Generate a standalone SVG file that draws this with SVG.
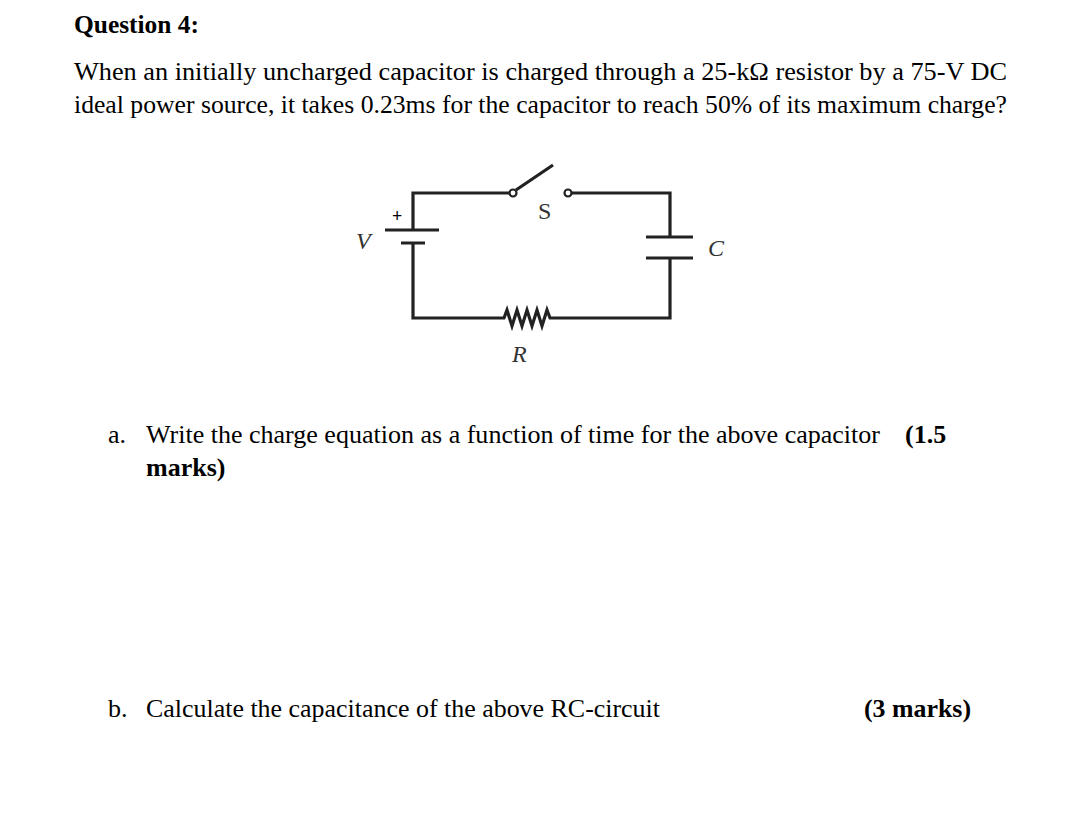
<svg xmlns="http://www.w3.org/2000/svg" width="1078" height="826" viewBox="0 0 1078 826">
<style>
text{font-family:"Liberation Serif",serif;font-size:26px;fill:#000}
.b{font-weight:bold}
.w{stroke:#222;stroke-width:3.2;fill:none}
.l{font-style:italic;font-size:24px;fill:#333}
</style>
<rect width="1078" height="826" fill="#fff"/>
<text class="b" x="74" y="33" textLength="125" lengthAdjust="spacingAndGlyphs">Question 4:</text>
<text x="74" y="80" textLength="933" lengthAdjust="spacingAndGlyphs">When an initially uncharged capacitor is charged through a 25-kΩ resistor by a 75-V DC</text>
<text x="74" y="113" textLength="933" lengthAdjust="spacingAndGlyphs">ideal power source, it takes 0.23ms for the capacitor to reach 50% of its maximum charge?</text>
<g id="circuit">
<path class="w" d="M413 230V193H510M571 193H670V237M670 258V318H550l-3 -8l-5 16l-5-16l-5 16l-5-16l-5 16l-5-16l-5 16l-5-16l-3 8H413V243"/>
<path class="w" d="M385 230H439M401 243H425M646 237H693M646 258H693M516 190L553 165"/>
<circle class="w" cx="513" cy="193" r="3.5" style="stroke-width:2.2"/>
<circle class="w" cx="568" cy="193" r="3.5" style="stroke-width:2.2"/>
<text x="392" y="222" style="font-size:18px;font-weight:bold">+</text>
<text class="l" x="356" y="249">V</text>
<text class="l" x="538" y="219" style="font-style:normal">S</text>
<text class="l" x="708" y="256">C</text>
<text class="l" x="512" y="362">R</text>
</g>
<text x="108" y="443">a.</text>
<text x="146" y="443" textLength="734" lengthAdjust="spacingAndGlyphs">Write the charge equation as a function of time for the above capacitor</text>
<text class="b" x="905" y="443">(1.5</text>
<text class="b" x="146" y="476">marks)</text>
<text x="108" y="717">b.</text>
<text x="146" y="717" textLength="514" lengthAdjust="spacingAndGlyphs">Calculate the capacitance of the above RC-circuit</text>
<text class="b" x="864" y="717" textLength="107" lengthAdjust="spacingAndGlyphs">(3 marks)</text>
</svg>
